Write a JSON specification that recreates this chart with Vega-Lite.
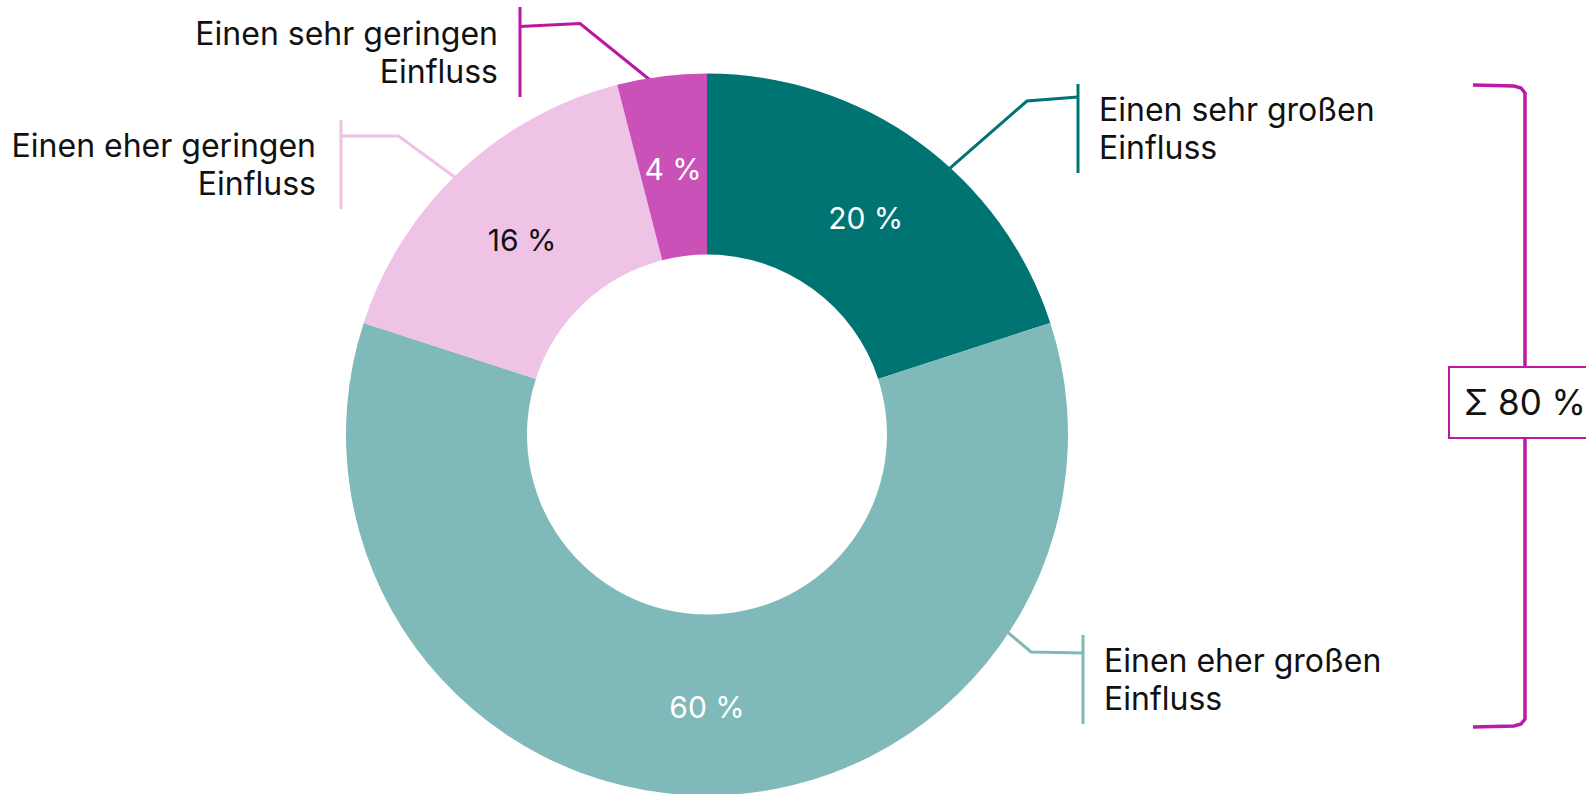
{
  "$schema": "https://vega.github.io/schema/vega-lite/v6.json",
  "width": 1586,
  "height": 794,
  "autosize": {"type": "none"},
  "padding": 0,
  "background": "white",
  "config": {"view": {"stroke": null}, "font": "Inter"},
  "datasets": {
    "slices": [
      {"cat": "Einen sehr großen Einfluss", "value": 20, "ord": 1, "pct": "20 %"},
      {"cat": "Einen eher großen Einfluss", "value": 60, "ord": 2, "pct": "60 %"},
      {"cat": "Einen eher geringen Einfluss", "value": 16, "ord": 3, "pct": "16 %"},
      {"cat": "Einen sehr geringen Einfluss", "value": 4, "ord": 4, "pct": "4 %"}
    ],
    "elbows": [
      {"cat": "Einen sehr geringen Einfluss", "p": 1, "x": -51.80, "y": 113.02},
      {"cat": "Einen sehr geringen Einfluss", "p": 2, "x": -35.18, "y": 113.85},
      {"cat": "Einen sehr geringen Einfluss", "p": 3, "x": -14.40, "y": 97.09},
      {"cat": "Einen eher geringen Einfluss", "p": 1, "x": -101.39, "y": 82.69},
      {"cat": "Einen eher geringen Einfluss", "p": 2, "x": -85.46, "y": 82.69},
      {"cat": "Einen eher geringen Einfluss", "p": 3, "x": -68.42, "y": 70.22},
      {"cat": "Einen sehr großen Einfluss", "p": 1, "x": 102.77, "y": 93.49},
      {"cat": "Einen sehr großen Einfluss", "p": 2, "x": 88.64, "y": 92.38},
      {"cat": "Einen sehr großen Einfluss", "p": 3, "x": 65.10, "y": 71.88},
      {"cat": "Einen eher großen Einfluss", "p": 1, "x": 104.16, "y": -60.53},
      {"cat": "Einen eher großen Einfluss", "p": 2, "x": 89.75, "y": -60.25},
      {"cat": "Einen eher großen Einfluss", "p": 3, "x": 82.27, "y": -53.88}
    ],
    "ticks": [
      {"cat": "Einen sehr geringen Einfluss", "x": -51.80, "y": 118.42, "y2": 93.49},
      {"cat": "Einen eher geringen Einfluss", "x": -101.39, "y": 87.12, "y2": 62.47},
      {"cat": "Einen sehr großen Einfluss", "x": 102.77, "y": 97.09, "y2": 72.44},
      {"cat": "Einen eher großen Einfluss", "x": 104.16, "y": -55.54, "y2": -80.19}
    ],
    "labels": [
      {"text": "Einen sehr geringen\nEinfluss", "side": "left", "x": -57.89, "y": 107.89},
      {"text": "Einen eher geringen\nEinfluss", "side": "left", "x": -108.31, "y": 76.87},
      {"text": "Einen sehr großen\nEinfluss", "side": "right", "x": 108.59, "y": 86.84},
      {"text": "Einen eher großen\nEinfluss", "side": "right", "x": 109.97, "y": -65.79}
    ],
    "bracket": [
      {"p": 1, "x": 212.19, "y": 96.81},
      {"p": 2, "x": 223.55, "y": 96.54},
      {"p": 3, "x": 225.48, "y": 95.98},
      {"p": 4, "x": 226.59, "y": 94.60},
      {"p": 5, "x": 226.59, "y": -78.81},
      {"p": 6, "x": 225.48, "y": -80.19},
      {"p": 7, "x": 223.55, "y": -80.75},
      {"p": 8, "x": 212.19, "y": -81.02}
    ],
    "box": [
      {"x": 205.54, "x2": 250.14, "y": 18.70, "y2": -0.97, "text": "Σ 80 %", "tx": 209.70, "ty": 5.40}
    ]
  },
  "layer": [
    {
      "data": {"name": "elbows"},
      "mark": {"type": "line", "strokeWidth": 3, "interpolate": "linear"},
      "encoding": {
        "x": {"field": "x", "type": "quantitative", "scale": {"domain": [-195.84, 243.49], "nice": false, "zero": false}, "axis": null},
        "y": {"field": "y", "type": "quantitative", "scale": {"domain": [-99.58, 120.36], "nice": false, "zero": false}, "axis": null},
        "detail": {"field": "cat"},
        "order": {"field": "p"},
        "stroke": {"field": "cat", "type": "nominal", "legend": null,
          "scale": {"domain": ["Einen sehr großen Einfluss", "Einen eher großen Einfluss", "Einen eher geringen Einfluss", "Einen sehr geringen Einfluss"],
                    "range": ["#007373", "#80B9B9", "#EEC3E6", "#B8179F"]}}
      }
    },
    {
      "data": {"name": "ticks"},
      "mark": {"type": "rule", "strokeWidth": 3},
      "encoding": {
        "x": {"field": "x", "type": "quantitative"},
        "y": {"field": "y", "type": "quantitative"},
        "y2": {"field": "y2"},
        "stroke": {"field": "cat", "type": "nominal", "legend": null}
      }
    },
    {
      "data": {"name": "slices"},
      "mark": {"type": "arc", "radius": 361, "radius2": 180},
      "encoding": {
        "x": {"datum": 0, "type": "quantitative"},
        "y": {"datum": 0, "type": "quantitative"},
        "theta": {"field": "value", "type": "quantitative", "stack": true},
        "order": {"field": "ord"},
        "fill": {"field": "cat", "type": "nominal", "legend": null,
          "scale": {"domain": ["Einen sehr großen Einfluss", "Einen eher großen Einfluss", "Einen eher geringen Einfluss", "Einen sehr geringen Einfluss"],
                    "range": ["#007373", "#80B9B9", "#EEC3E6", "#C951B8"]}}
      }
    },
    {
      "data": {"name": "slices"},
      "mark": {"type": "text", "radius": 270, "fontSize": 30, "font": "Inter", "align": "center", "baseline": "middle", "dy": 4},
      "encoding": {
        "x": {"datum": 0, "type": "quantitative"},
        "y": {"datum": 0, "type": "quantitative"},
        "theta": {"field": "value", "type": "quantitative", "stack": true},
        "order": {"field": "ord"},
        "text": {"field": "pct"},
        "color": {"condition": {"test": "datum.ord === 3", "value": "#111111"}, "value": "#ffffff"}
      }
    },
    {
      "data": {"name": "labels"},
      "transform": [{"filter": "datum.side === 'left'"}],
      "mark": {"type": "text", "align": "right", "baseline": "alphabetic", "fontSize": 32, "font": "Inter", "lineBreak": "\n", "lineHeight": 37.5, "color": "#111111"},
      "encoding": {
        "x": {"field": "x", "type": "quantitative"},
        "y": {"field": "y", "type": "quantitative"},
        "text": {"field": "text"}
      }
    },
    {
      "data": {"name": "labels"},
      "transform": [{"filter": "datum.side === 'right'"}],
      "mark": {"type": "text", "align": "left", "baseline": "alphabetic", "fontSize": 32, "font": "Inter", "lineBreak": "\n", "lineHeight": 37.5, "color": "#111111"},
      "encoding": {
        "x": {"field": "x", "type": "quantitative"},
        "y": {"field": "y", "type": "quantitative"},
        "text": {"field": "text"}
      }
    },
    {
      "data": {"name": "bracket"},
      "mark": {"type": "line", "strokeWidth": 3.5, "color": "#BB19A6", "interpolate": "linear"},
      "encoding": {
        "x": {"field": "x", "type": "quantitative"},
        "y": {"field": "y", "type": "quantitative"},
        "order": {"field": "p"}
      }
    },
    {
      "data": {"name": "box"},
      "mark": {"type": "rect", "fill": "white", "stroke": "#BB19A6", "strokeWidth": 2},
      "encoding": {
        "x": {"field": "x", "type": "quantitative"},
        "x2": {"field": "x2"},
        "y": {"field": "y", "type": "quantitative"},
        "y2": {"field": "y2"}
      }
    },
    {
      "data": {"name": "box"},
      "mark": {"type": "text", "align": "left", "baseline": "alphabetic", "fontSize": 35, "font": "Inter", "color": "#111111"},
      "encoding": {
        "x": {"field": "tx", "type": "quantitative"},
        "y": {"field": "ty", "type": "quantitative"},
        "text": {"field": "text"}
      }
    }
  ]
}
